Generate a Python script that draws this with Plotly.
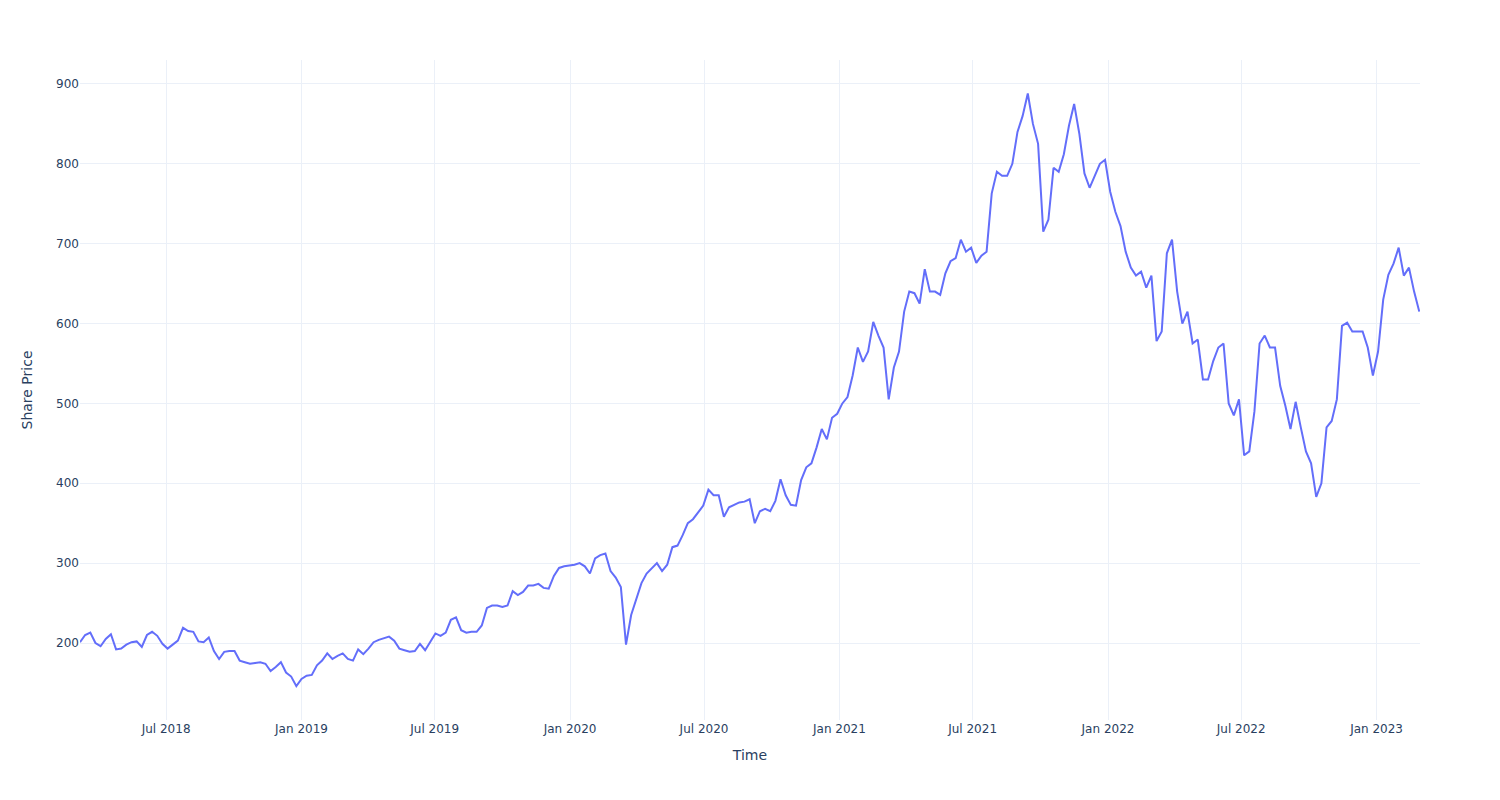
import pandas as pd
import plotly.graph_objects as go

start_date = "2018-03-06"
end_date = "2023-03-01"

share_price = [
    201, 210, 213, 200, 196, 205, 211, 192, 193, 198,
    201, 202, 195, 210, 214, 209, 199, 193, 198, 203,
    219, 215, 214, 202, 201, 207, 190, 180, 189, 190,
    190, 178, 176, 174, 175, 176, 174, 165, 170, 176,
    163, 158, 146, 155, 159, 160, 172, 178, 187, 180,
    184, 187, 180, 178, 192, 186, 193, 201, 204, 206,
    208, 203, 193, 191, 189, 190, 199, 191, 201, 212,
    209, 213, 229, 232, 216, 213, 214, 214, 222, 244,
    247, 247, 245, 247, 265, 260, 264, 272, 272, 274,
    269, 268, 284, 294, 296, 297, 298, 300, 296, 287,
    306, 310, 312, 290, 282, 270, 198, 235, 255, 275,
    287, 294, 300, 290, 298, 320, 322, 335, 350, 355,
    363, 372, 392, 385, 385, 358, 370, 373, 376, 377,
    380, 350, 365, 368, 365, 378, 405, 385, 373, 372,
    404, 420, 425, 445, 468, 455, 482, 487, 500, 508,
    535, 570, 552, 565, 602, 585, 570, 505, 545, 565,
    615, 640, 638, 625, 668, 640, 640, 636, 663, 678,
    682, 705, 690, 695, 676, 685, 690, 763, 790, 785,
    785, 800, 840, 860, 888, 850, 825, 715, 730, 795,
    790, 812, 848, 875, 838, 788, 770, 785, 800, 805,
    765, 740, 722, 690, 670, 660, 665, 645, 660, 578,
    590, 688, 705, 640, 600, 615, 575, 580, 530, 530,
    553, 570, 575, 500, 485, 505, 435, 440, 490, 575,
    585, 570, 570, 522, 497, 468, 502, 470, 440, 425,
    383, 400, 470, 478, 505, 597, 601, 590, 590, 590,
    570, 535, 565, 630, 661, 675, 695, 660, 670, 640,
    615,
]

dates = pd.date_range(start_date, periods=len(share_price), freq="7D")

fig = go.Figure()
fig.add_trace(go.Scatter(
    x=dates, y=share_price, mode="lines",
    line=dict(color="#636efa", width=2),
    showlegend=False,
))

fig.update_layout(
    template="plotly_white",
    width=1500, height=800,
    margin=dict(l=72, r=88, t=52, b=88),
    font=dict(family="DejaVu Sans", color="#2a3f5f"),
    xaxis=dict(title=dict(text="Time"), range=[start_date, end_date],
               gridcolor="#EBF0F8"),
    yaxis=dict(title=dict(text="Share Price", standoff=20),
               range=[103.6, 930.0],
               gridcolor="#EBF0F8", zeroline=False),
)

fig.write_html("out.html")
